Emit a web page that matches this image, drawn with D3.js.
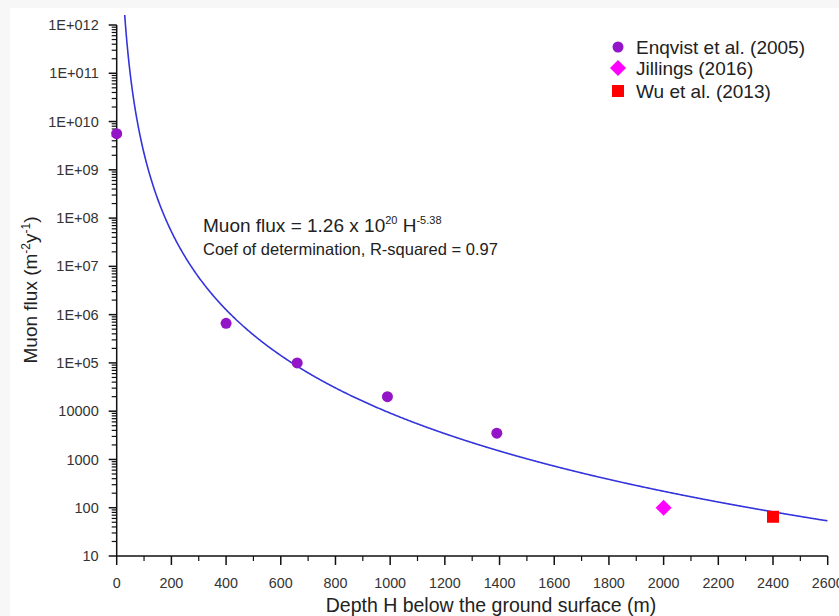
<!DOCTYPE html>
<html><head><meta charset="utf-8">
<script src="https://cdn.jsdelivr.net/npm/d3@7"></script>
<style>body{margin:0;background:#fff}svg{display:block;font-family:"Liberation Sans",Arial,sans-serif}</style>
</head><body>
<script>
const enqvistDepth = [0, 400, 660, 990, 1390];
const enqvistFlux = [5.6e9, 6.6e5, 1.0e5, 2.0e4, 3.5e3];
const jillingsDepth = [2000];
const jillingsFlux = [100];
const wuDepth = [2400];
const wuFlux = [65];
const fitA = 1.26e20, fitB = -5.38;
const xTicks = d3.range(0, 2601, 200);
const yTicks = [10,100,1000,10000,1e5,1e6,1e7,1e8,1e9,1e10,1e11,1e12];
const yTickLabels = ["10","100","1000","10000","1E+05","1E+06","1E+07","1E+08","1E+09","1E+010","1E+011","1E+012"];

const W=839,H=616;
const svg=d3.select("body").append("svg").attr("width",W).attr("height",H);
svg.append("rect").attr("width",W).attr("height",H).attr("fill","#f7f7f7");
svg.append("rect").attr("x",10).attr("y",8).attr("width",W-10).attr("height",H-8).attr("fill","#fff");

const x=d3.scaleLinear().domain([0,2600]).range([116.7,827.7]);
const y=d3.scaleLog().domain([10,1e12]).range([556,25]);

// curve
svg.append("clipPath").attr("id","c").append("rect").attr("x",116.7).attr("y",15).attr("width",730).attr("height",541);
const curve=d3.range(1,2601,2).map(h=>[h,fitA*Math.pow(h,fitB)]);
const line=d3.line().x(d=>x(d[0])).y(d=>y(d[1]));
svg.append("path").attr("clip-path","url(#c)").datum(curve.filter(d=>d[1]<1e13)).attr("d",line)
  .attr("fill","none").attr("stroke","#3434dc").attr("stroke-width",1.6);

// y axis
const minor=[];
for(let e=1;e<12;e++){for(let k=2;k<10;k++){minor.push(k*Math.pow(10,e));}}
const gy=svg.append("g").attr("transform","translate(116.7,0)");
gy.append("line").attr("y1",y(10)).attr("y2",y(1e12)).attr("stroke","#111").attr("stroke-width",1.5);
gy.selectAll(".mn").data(minor).join("line").attr("x1",-5).attr("x2",0).attr("y1",d=>y(d)).attr("y2",d=>y(d)).attr("stroke","#111").attr("stroke-width",1.2);
gy.selectAll(".mj").data(yTicks).join("line").attr("x1",-8).attr("x2",0).attr("y1",d=>y(d)).attr("y2",d=>y(d)).attr("stroke","#111").attr("stroke-width",1.5);
gy.selectAll("text").data(yTicks).join("text").attr("x",-18).attr("y",d=>y(d)).attr("dy","0.35em")
  .attr("text-anchor","end").attr("font-size",14.5).attr("fill","#333").text((d,i)=>yTickLabels[i]);

// x axis
const gx=svg.append("g").attr("transform","translate(0,556)");
gx.append("line").attr("x1",x(0)).attr("x2",x(2600)).attr("stroke","#111").attr("stroke-width",1.5);
gx.selectAll(".mn").data(d3.range(100,2600,200)).join("line").attr("x1",d=>x(d)).attr("x2",d=>x(d)).attr("y1",0).attr("y2",5).attr("stroke","#111").attr("stroke-width",1.2);
gx.selectAll(".mj").data(xTicks).join("line").attr("x1",d=>x(d)).attr("x2",d=>x(d)).attr("y1",0).attr("y2",9).attr("stroke","#111").attr("stroke-width",1.5);
gx.selectAll("text").data(xTicks).join("text").attr("x",d=>x(d)).attr("y",32).attr("text-anchor","middle")
  .attr("font-size",14.3).attr("fill","#333").text(d=>d);

// labels
svg.append("text").attr("x",491).attr("y",612).attr("text-anchor","middle").attr("font-size",19.5).attr("fill","#222")
  .text("Depth H below the ground surface (m)");
const yl=svg.append("text").attr("transform","translate(37,290) rotate(-90)").attr("text-anchor","middle").attr("font-size",19).attr("fill","#222");
yl.append("tspan").text("Muon flux (m");
yl.append("tspan").attr("font-size",12).attr("dy",-7).text("-2");
yl.append("tspan").attr("dy",7).text("y");
yl.append("tspan").attr("font-size",12).attr("dy",-7).text("-1");
yl.append("tspan").attr("dy",7).text(")");

// equation
const eq=svg.append("text").attr("x",203).attr("y",232).attr("font-size",19).attr("fill","#222");
eq.append("tspan").text("Muon flux = 1.26 x 10");
eq.append("tspan").attr("font-size",11).attr("dy",-8).text("20");
eq.append("tspan").attr("dy",8).text(" H");
eq.append("tspan").attr("font-size",11).attr("dy",-8).text("-5.38");
svg.append("text").attr("x",203).attr("y",255).attr("font-size",16.5).attr("fill","#222").text("Coef of determination, R-squared = 0.97");

// points
svg.selectAll(".en").data(enqvistDepth).join("circle").attr("cx",d=>x(d)).attr("cy",(d,i)=>y(enqvistFlux[i])).attr("r",5.5).attr("fill","#9414c8");
svg.selectAll(".ji").data(jillingsDepth).join("path").attr("transform",(d,i)=>`translate(${x(d)},${y(jillingsFlux[i])})`)
  .attr("d","M0,-8L8,0L0,8L-8,0Z").attr("fill","#ff00ff");
svg.selectAll(".wu").data(wuDepth).join("rect").attr("x",d=>x(d)-6).attr("y",(d,i)=>y(wuFlux[i])-6).attr("width",12).attr("height",12).attr("fill","#ff0000");

// legend
const lg=svg.append("g");
lg.append("circle").attr("cx",618).attr("cy",47).attr("r",5.5).attr("fill","#9414c8");
lg.append("path").attr("transform","translate(618,68)").attr("d","M0,-8L8,0L0,8L-8,0Z").attr("fill","#ff00ff");
lg.append("rect").attr("x",612).attr("y",85).attr("width",12).attr("height",12).attr("fill","#ff0000");
[["Enqvist et al. (2005)",47],["Jillings (2016)",68],["Wu et al. (2013)",91]].forEach(([t,yy])=>{
  lg.append("text").attr("x",636).attr("y",yy).attr("dy","0.35em").attr("font-size",19).attr("fill","#222").text(t);
});
</script>
</body></html>
